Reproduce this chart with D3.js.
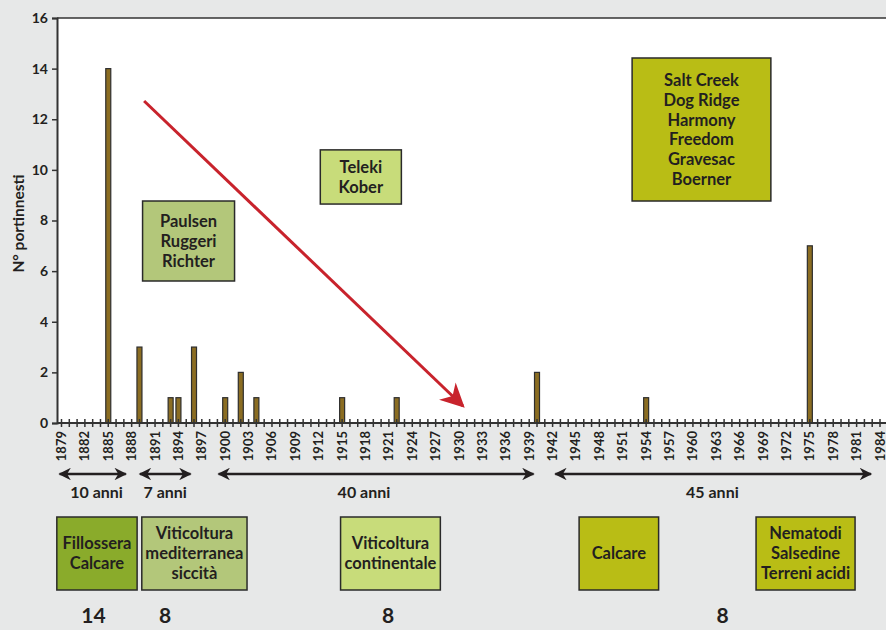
<!DOCTYPE html>
<html>
<head>
<meta charset="utf-8">
<script src="https://cdn.jsdelivr.net/npm/d3@7"></script>
<style>
  body { margin: 0; background: #e7e8e8; }
  svg { display: block; font-family: Lato, "Open Sans", sans-serif; }
  text { fill: #231f20; font-weight: 700; }
</style>
</head>
<body>
<svg id="chart"></svg>
<script>
// data
const years = [1885, 1889, 1893, 1894, 1896, 1900, 1902, 1904, 1915, 1922, 1940, 1954, 1975];
const counts = [14, 3, 1, 1, 3, 1, 2, 1, 1, 1, 2, 1, 7];
const yTicks = [0, 2, 4, 6, 8, 10, 12, 14, 16];

// periods (double arrows under the axis)
const periodLabels = ['10 anni', '7 anni', '40 anni', '45 anni'];
const periodFrom = [1878.5, 1888.8, 1898.9, 1942.1];
const periodTo = [1887.5, 1895.8, 1939.8, 1983.1];
const periodLabelYear = [1883.5, 1892.3, 1917.8, 1962.5];

// boxes under the periods
const causeTexts = [['Fillossera', 'Calcare'], ['Viticoltura', 'mediterranea', 'siccità'],
  ['Viticoltura', 'continentale'], ['Calcare'], ['Nematodi', 'Salsedine', 'Terreni acidi']];
const causeFrom = [1878.4, 1889.3, 1914.8, 1945.4, 1968.1];
const causeTo = [1888.7, 1902.8, 1927.6, 1955.6, 1980.8];
const causeColors = ['#8aab2b', '#b3c77a', '#c8dc7a', '#b9bd15', '#b9bd15'];

// totals per period
const totals = [14, 8, 8, 8];
const totalYear = [1883.1, 1892.3, 1920.9, 1963.8];

// rootstock boxes inside the plot
const rootTexts = [['Paulsen', 'Ruggeri', 'Richter'], ['Teleki', 'Kober'],
  ['Salt Creek', 'Dog Ridge', 'Harmony', 'Freedom', 'Gravesac', 'Boerner']];
const rootX0 = [1889.4, 1912.2, 1952.2];
const rootX1 = [1901.2, 1922.6, 1970.0];
const rootY0 = [8.77, 10.79, 14.42];
const rootY1 = [5.61, 8.65, 8.77];
const rootColors = ['#b3c77a', '#c8dc7a', '#b9bd15'];

// trend arrow
const trendYears = [1889.6, 1930.5];
const trendValues = [12.72, 0.67];

const width = 886, height = 630;

const svg = d3.select('#chart')
  .attr('width', width)
  .attr('height', height);

const x = d3.scaleLinear().domain([1879, 1984]).range([61.5, 880]);
const y = d3.scaleLinear().domain([0, 16]).range([423, 18]);

// white plot area
svg.append('rect')
  .attr('x', 57).attr('y', y(16))
  .attr('width', width - 57).attr('height', y(0) - y(16))
  .attr('fill', '#fff');

// top frame line
svg.append('line')
  .attr('x1', 57).attr('x2', width)
  .attr('y1', y(16)).attr('y2', y(16))
  .attr('stroke', '#333').attr('stroke-width', 1.5);

// y axis
const yAxis = svg.append('g')
  .attr('transform', 'translate(57,0)')
  .call(d3.axisLeft(y).tickValues(yTicks).tickSize(5).tickPadding(4));
yAxis.select('.domain').attr('stroke', '#333').attr('stroke-width', 2);
yAxis.selectAll('.tick line').attr('stroke', '#333').attr('stroke-width', 1.5);
yAxis.selectAll('.tick text')
  .style('font-family', 'Lato, sans-serif').style('font-size', '14px')
  .style('font-weight', 700).attr('fill', '#231f20');

svg.append('text')
  .attr('transform', `translate(24,${(y(16) + y(0)) / 2 + 3}) rotate(-90)`)
  .attr('text-anchor', 'middle')
  .style('font-size', '15.5px')
  .text('N° portinnesti');

// bars
svg.selectAll('.bar')
  .data(years)
  .enter()
  .append('rect')
  .attr('class', 'bar')
  .attr('x', d => x(d) - 2.5)
  .attr('width', 5)
  .attr('y', (d, i) => y(counts[i]))
  .attr('height', (d, i) => y(0) - y(counts[i]))
  .attr('fill', '#8b6d22')
  .attr('stroke', '#2e2e2e')
  .attr('stroke-width', 1.2);

// x axis: tick every year, label every 3 years
const allYears = d3.range(1879, 1986);
const labelYears = d3.range(1879, 1985, 3);
const xAxis = svg.append('g');
xAxis.append('line')
  .attr('x1', 57).attr('x2', width)
  .attr('y1', y(0)).attr('y2', y(0))
  .attr('stroke', '#333').attr('stroke-width', 2);
xAxis.selectAll('.yt')
  .data(allYears)
  .enter()
  .append('line')
  .attr('x1', d => x(d)).attr('x2', d => x(d))
  .attr('y1', y(0) - 4).attr('y2', y(0) + 4)
  .attr('stroke', '#333').attr('stroke-width', 1.5);
xAxis.selectAll('.yl')
  .data(labelYears)
  .enter()
  .append('text')
  .attr('transform', d => `translate(${x(d) + 4.5},431) rotate(-90)`)
  .attr('text-anchor', 'end')
  .style('font-size', '13px')
  .style('font-weight', 700)
  .text(d => d);

// trend arrow
const defs = svg.append('defs');
defs.append('marker')
  .attr('id', 'redhead')
  .attr('viewBox', '0 0 10 10')
  .attr('refX', 9).attr('refY', 5)
  .attr('markerWidth', 9).attr('markerHeight', 8)
  .attr('markerUnits', 'strokeWidth')
  .attr('orient', 'auto')
  .append('path')
  .attr('d', 'M0,0 L10,5 L0,10 L3,5 Z')
  .attr('fill', '#c8232c');
defs.append('marker')
  .attr('id', 'blackhead')
  .attr('viewBox', '0 0 10 10')
  .attr('refX', 9).attr('refY', 5)
  .attr('markerWidth', 6).attr('markerHeight', 5)
  .attr('markerUnits', 'strokeWidth')
  .attr('orient', 'auto-start-reverse')
  .append('path')
  .attr('d', 'M0,0 L10,5 L0,10 L3,5 Z')
  .attr('fill', '#231f20');

svg.append('line')
  .attr('x1', x(trendYears[0])).attr('y1', y(trendValues[0]))
  .attr('x2', x(trendYears[1])).attr('y2', y(trendValues[1]))
  .attr('stroke', '#c8232c').attr('stroke-width', 3)
  .attr('marker-end', 'url(#redhead)');

// rootstock boxes
function textBox(g, x0, y0, x1, y1, lines, fill, fontSize, lineH) {
  g.append('rect')
    .attr('x', x0).attr('y', y0)
    .attr('width', x1 - x0).attr('height', y1 - y0)
    .attr('fill', fill).attr('stroke', '#2a2a2a').attr('stroke-width', 1.5);
  const cy = (y0 + y1) / 2 - (lines.length - 1) * lineH / 2;
  lines.forEach((t, j) => {
    g.append('text')
      .attr('x', (x0 + x1) / 2)
      .attr('y', cy + j * lineH + fontSize * 0.36)
      .attr('text-anchor', 'middle')
      .style('font-size', fontSize + 'px')
      .text(t);
  });
}

const roots = svg.append('g');
rootTexts.forEach((lines, i) => {
  textBox(roots, x(rootX0[i]), y(rootY0[i]), x(rootX1[i]), y(rootY1[i]), lines, rootColors[i], 16.5, 19.8);
});

// period arrows
const periods = svg.append('g');
periodLabels.forEach((lab, i) => {
  periods.append('line')
    .attr('x1', x(periodFrom[i]) + 2).attr('x2', x(periodTo[i]) - 2)
    .attr('y1', 474).attr('y2', 474)
    .attr('stroke', '#231f20').attr('stroke-width', 2.5)
    .attr('marker-start', 'url(#blackhead)')
    .attr('marker-end', 'url(#blackhead)');
  periods.append('text')
    .attr('x', x(periodLabelYear[i]))
    .attr('y', 498)
    .attr('text-anchor', 'middle')
    .style('font-size', '16px')
    .text(lab);
});

// cause boxes
const causes = svg.append('g');
causeTexts.forEach((lines, i) => {
  textBox(causes, x(causeFrom[i]), 517, x(causeTo[i]), 590, lines, causeColors[i], 16.5, 20);
});

// totals
svg.selectAll('.total')
  .data(totals)
  .enter()
  .append('text')
  .attr('x', (d, i) => x(totalYear[i]))
  .attr('y', 623)
  .attr('text-anchor', 'middle')
  .style('font-size', '21px')
  .text(d => d);
</script>
</body>
</html>
